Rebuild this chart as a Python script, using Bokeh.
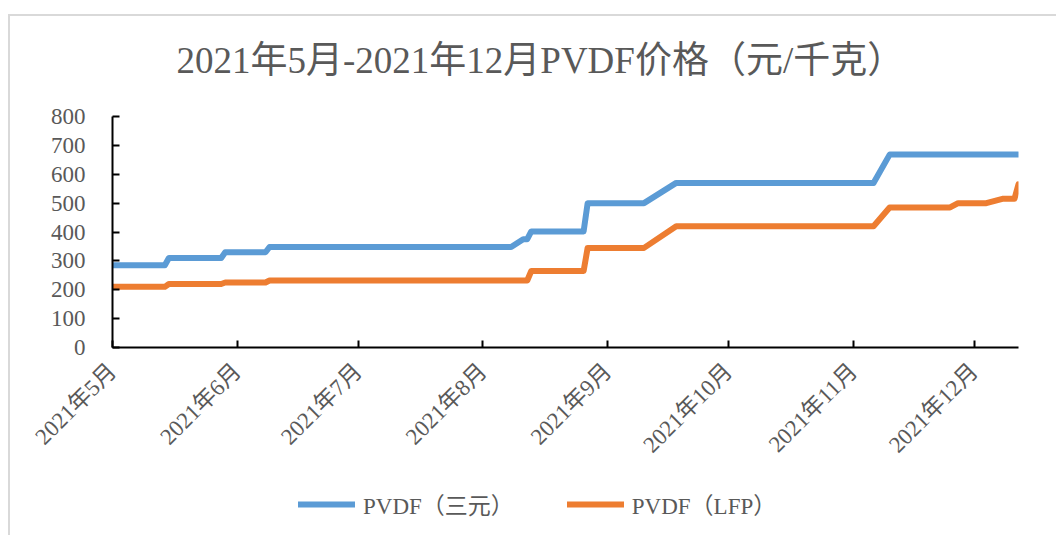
import math
import pandas as pd
from bokeh.plotting import figure
from bokeh.layouts import column
from bokeh.models import Range1d, FixedTicker, Legend, LegendItem
from bokeh.embed import file_html
from bokeh.resources import INLINE

title_text = "2021年5月-2021年12月PVDF价格（元/千克）"
series_names = ["PVDF（三元）", "PVDF（LFP）"]

month_ticks = ["2021-05-01", "2021-06-01", "2021-07-01", "2021-08-01",
               "2021-09-01", "2021-10-01", "2021-11-01", "2021-12-01"]
month_labels = ["2021年5月", "2021年6月", "2021年7月", "2021年8月",
                "2021年9月", "2021年10月", "2021年11月", "2021年12月"]
y_ticks = [0, 100, 200, 300, 400, 500, 600, 700, 800]

ncm_dates = ["2021-05-01", "2021-05-14", "2021-05-15", "2021-05-28", "2021-05-29",
             "2021-06-08", "2021-06-09", "2021-08-08", "2021-08-11", "2021-08-12",
             "2021-08-13", "2021-08-26", "2021-08-27", "2021-09-10", "2021-09-18",
             "2021-11-06", "2021-11-10", "2021-12-12"]
ncm_values = [285, 285, 310, 310, 330,
              330, 348, 348, 375, 375,
              402, 402, 500, 500, 570,
              570, 668, 668]

lfp_dates = ["2021-05-01", "2021-05-14", "2021-05-15", "2021-05-28", "2021-05-29",
             "2021-06-08", "2021-06-09", "2021-08-12", "2021-08-13", "2021-08-26",
             "2021-08-27", "2021-09-10", "2021-09-18", "2021-11-06", "2021-11-10",
             "2021-11-25", "2021-11-27", "2021-12-04", "2021-12-08", "2021-12-11",
             "2021-12-12"]
lfp_values = [210, 210, 220, 220, 225,
              225, 232, 232, 265, 265,
              345, 345, 420, 420, 485,
              485, 500, 500, 515, 515,
              565]

FONT = '"Liberation Serif", "Noto Sans CJK SC"'
GREY = "#595959"
BLUE = "#5B9BD5"
ORANGE = "#ED7D31"
colors = [BLUE, ORANGE]
series = [(ncm_dates, ncm_values), (lfp_dates, lfp_values)]

x_start = pd.Timestamp(month_ticks[0])
x_end = max(pd.Timestamp(ncm_dates[-1]), pd.Timestamp(lfp_dates[-1]))

p = figure(frame_width=906, frame_height=231, x_axis_type="datetime",
           x_range=Range1d(start=x_start, end=x_end),
           y_range=Range1d(start=y_ticks[0], end=y_ticks[-1]),
           output_backend="svg", toolbar_location=None,
           min_border_left=112, min_border_right=38,
           min_border_top=116, min_border_bottom=133,
           title=title_text)

p.outline_line_color = None
p.background_fill_color = None
p.border_fill_color = None
p.xgrid.visible = False
p.ygrid.visible = False

p.title.text_font = FONT
p.title.text_font_size = "37px"
p.title.text_font_style = "normal"
p.title.text_color = GREY
p.title.align = "left"
p.title.offset = 64
p.title.standoff = 72

for (d, v), c in zip(series, colors):
    p.line(x=pd.to_datetime(d), y=v, line_width=6, line_color=c,
           line_cap="round", line_join="round")

tick_ms = [float(pd.Timestamp(t).value // 10**6) for t in month_ticks]
xa = p.xaxis[0]
xa.ticker = FixedTicker(ticks=tick_ms)
xa.major_label_overrides = {t: lab for t, lab in zip(tick_ms, month_labels)}
xa.major_label_orientation = math.pi / 4
xa.major_label_standoff = 20

ya = p.yaxis[0]
ya.ticker = FixedTicker(ticks=y_ticks)
ya.major_label_standoff = 27

for ax in (xa, ya):
    ax.axis_line_color = "black"
    ax.axis_line_width = 2
    ax.major_tick_line_color = "black"
    ax.major_tick_line_width = 2
    ax.major_tick_in = 7
    ax.major_tick_out = 0
    ax.minor_tick_line_color = None
    ax.major_label_text_font = FONT
    ax.major_label_text_font_size = "23px"
    ax.major_label_text_color = GREY

# legend strip below the chart (its series lines lie outside its own view; only the legend shows)
lg = figure(width=1056, height=55, x_axis_type="datetime",
            x_range=Range1d(start=x_start, end=x_end),
            y_range=Range1d(start=-2 * y_ticks[-1], end=-y_ticks[-1]),
            output_backend="svg", toolbar_location=None,
            x_axis_location=None, y_axis_location=None,
            min_border_left=0, min_border_right=0, min_border_top=0, min_border_bottom=0)
lg.outline_line_color = None
lg.background_fill_color = None
lg.border_fill_color = None
lg.xgrid.visible = False
lg.ygrid.visible = False

items = []
for name, (d, v), c in zip(series_names, series, colors):
    r = lg.line(x=pd.to_datetime(d), y=v, line_width=6, line_color=c,
                line_cap="round", line_join="round")
    items.append(LegendItem(label=name, renderers=[r]))

legend = Legend(items=items, orientation="horizontal", location=(186, 14), margin=0,
                padding=0, spacing=53, glyph_width=57, glyph_height=20,
                label_standoff=8, label_text_font=FONT, label_text_font_size="23px",
                label_text_color=GREY, border_line_color=None,
                background_fill_alpha=0)
lg.add_layout(legend, "center")

layout = column(p, lg, spacing=0)
layout.styles = {"background": "linear-gradient(#d9d9d9, #d9d9d9) 8px 14px / 100% 2px no-repeat, "
                               "linear-gradient(#d9d9d9, #d9d9d9) 8px 14px / 2px 100% no-repeat"}

open("out.html", "w").write(file_html(layout, INLINE))
